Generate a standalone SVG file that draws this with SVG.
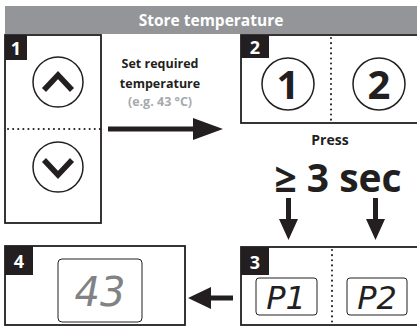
<svg xmlns="http://www.w3.org/2000/svg" width="417" height="336" viewBox="0 0 417 336">
<style>
.box{fill:#fff;stroke:#231f20;stroke-width:1.8}
.lbl{fill:#231f20}
.lt{font-family:"Open Sans","Liberation Sans",sans-serif;font-weight:bold;fill:#fff;font-size:18px}
.dot{stroke:#231f20;stroke-width:2;stroke-dasharray:0.1 5;stroke-linecap:round;fill:none}
.circ{fill:none;stroke:#231f20;stroke-width:1.5}
.chev{fill:none;stroke:#231f20;stroke-width:5.5;stroke-linejoin:miter}
.big{font-family:"Open Sans","Liberation Sans",sans-serif;font-weight:bold;fill:#231f20}
.disp{fill:none;stroke:#231f20;stroke-width:1}
.seg{font-family:"DejaVu Sans","Liberation Sans",sans-serif;font-style:italic;font-weight:200}
.arr{fill:#231f20}
.txt{font-family:"Open Sans","Liberation Sans",sans-serif;font-weight:bold}
</style>
<g id="header">
<rect x="5" y="6" width="412" height="28" fill="#939598"/>
<text x="211" y="26" text-anchor="middle" class="txt" font-size="15.5" fill="#fff">Store temperature</text>
</g>
<g id="node1">
<rect class="box" x="5" y="35" width="96" height="188"/>
<rect class="lbl" x="5" y="35" width="22" height="25"/>
<text class="lt" x="16" y="55" text-anchor="middle">1</text>
<line class="dot" x1="8" y1="129" x2="100" y2="129"/>
<circle class="circ" cx="58" cy="82" r="25"/>
<polyline class="chev" points="44,90 58,75 72,90"/>
<circle class="circ" cx="58" cy="167" r="25"/>
<polyline class="chev" points="44,160 58,175 72,160"/>
</g>
<g id="node2">
<rect class="box" x="241" y="35" width="180" height="88"/>
<rect class="lbl" x="241" y="35" width="28" height="23"/>
<text class="lt" x="255" y="54" text-anchor="middle">2</text>
<line class="dot" x1="331" y1="38" x2="331" y2="122"/>
<circle class="circ" cx="288" cy="84" r="26"/>
<text class="big" x="288" y="99" text-anchor="middle" font-size="40">1</text>
<circle class="circ" cx="379" cy="84" r="26"/>
<text class="big" x="379" y="99" text-anchor="middle" font-size="40">2</text>
</g>
<g id="node3">
<rect class="box" x="241" y="247" width="180" height="78"/>
<rect class="lbl" x="241" y="247" width="28" height="28"/>
<text class="lt" x="255" y="269" text-anchor="middle">3</text>
<line class="dot" x1="332" y1="250" x2="332" y2="324"/>
<rect class="disp" x="256" y="278" width="61" height="37" rx="3"/>
<text class="seg" x="286" y="309" text-anchor="middle" font-size="32" fill="#231f20">P1</text>
<rect class="disp" x="347" y="278" width="60" height="37" rx="3"/>
<text class="seg" x="377" y="309" text-anchor="middle" font-size="32" fill="#231f20">P2</text>
</g>
<g id="node4">
<rect class="box" x="5" y="246" width="180" height="79"/>
<rect class="lbl" x="5" y="246" width="28" height="29"/>
<text class="lt" x="19" y="268" text-anchor="middle">4</text>
<rect class="disp" x="58" y="259" width="84" height="63" rx="4" stroke="#58595b"/>
<text class="seg" x="100" y="306" text-anchor="middle" font-size="40" fill="#808285">43</text>
</g>
<g id="connectors">
<path class="arr" d="M108,126.5 H193 V118 L223,129 L193,140 V131.5 H108 Z"/>
<path class="arr" d="M286,198 H291 V219 H298 L288.5,240 L279,219 H286 Z"/>
<path class="arr" d="M373,198 H378 V219 H385 L375.5,240 L366,219 H373 Z"/>
<path class="arr" d="M233,295.5 V300.5 H211 V309 L188,298 L211,287 V295.5 Z"/>
</g>
<g id="labels">
<text x="160" y="68" text-anchor="middle" class="txt" font-size="12.5" fill="#231f20">Set required</text>
<text x="160" y="88" text-anchor="middle" class="txt" font-size="12.5" fill="#231f20">temperature</text>
<text x="160" y="106" text-anchor="middle" class="txt" font-size="12.5" fill="#a7a9ac">(e.g. 43 °C)</text>
<text x="330" y="145" text-anchor="middle" class="txt" font-size="14" fill="#231f20">Press</text>
<text x="338" y="192" text-anchor="middle" class="txt" font-size="39" fill="#231f20">≥ 3 sec</text>
</g>
</svg>
